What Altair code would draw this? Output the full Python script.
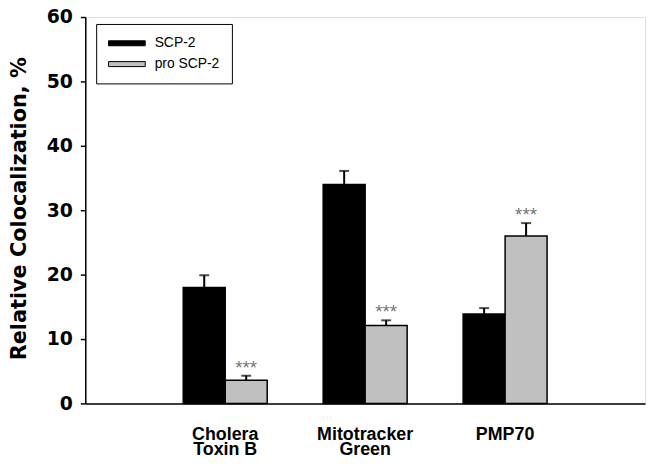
import altair as alt
import pandas as pd

categories = ["Cholera Toxin B", "Mitotracker Green", "PMP70"]
category_lines = [["Cholera", "Toxin B"], ["Mitotracker", "Green"], ["PMP70"]]
series = ["SCP-2", "pro SCP-2"]
scp2_values = [18.0, 34.0, 13.9]
scp2_errors = [1.9, 2.1, 0.9]
pro_values = [3.6, 12.1, 26.0]
pro_errors = [0.7, 0.8, 2.0]
pro_marks = ["***", "***", "***"]
colors = ["#000000", "#c0c0c0"]

rows = []
for i, c in enumerate(categories):
    rows.append({"cat": c, "series": series[0], "value": scp2_values[i],
                 "hi": scp2_values[i] + scp2_errors[i], "star": ""})
    rows.append({"cat": c, "series": series[1], "value": pro_values[i],
                 "hi": pro_values[i] + pro_errors[i], "star": pro_marks[i]})
df = pd.DataFrame(rows)

label_map = "{" + ",".join(
    "'%s': [%s]" % (c, ",".join("'%s'" % s for s in lines))
    for c, lines in zip(categories, category_lines)) + "}"

x_enc = alt.X("cat:N", scale=alt.Scale(domain=categories, paddingInner=0.4, paddingOuter=0.7),
              sort=categories,
              axis=alt.Axis(title=None, labelAngle=0, ticks=False, labelFont="Liberation Sans",
                            labelFontWeight="bold", labelFontSize=18, labelColor="black",
                            labelPadding=22, labelLineHeight=15.5,
                            labelExpr=label_map + "[datum.label]",
                            domainColor="black", domainWidth=1.5))
xoff = alt.XOffset("series:N", scale=alt.Scale(domain=series, paddingInner=0, paddingOuter=0))
y_scale = alt.Scale(domain=[0, 60], nice=False)

bars = alt.Chart(df).mark_bar(stroke="black", strokeWidth=1.5).encode(
    x=x_enc,
    xOffset=xoff,
    y=alt.Y("value:Q", scale=y_scale,
            axis=alt.Axis(title="Relative Colocalization, %", values=[0, 10, 20, 30, 40, 50, 60],
                          grid=False, tickSize=5, tickColor="black", tickWidth=1.5,
                          labelFont="DejaVu Sans", labelFontWeight="bold", labelFontSize=19,
                          labelColor="black", labelPadding=8,
                          titleFont="DejaVu Sans", titleFontWeight="bold", titleFontSize=21,
                          titleColor="black", titleX=-56, titleY=193,
                          domainColor="black", domainWidth=1.5)),
    fill=alt.Fill("series:N", scale=alt.Scale(domain=series, range=colors),
                  legend=alt.Legend(title=None, orient="none", legendX=11, legendY=7,
                                    padding=12, strokeColor="black", fillColor="white",
                                    symbolType="M-1,-0.36L4.29,-0.36L4.29,0.36L-1,0.36Z",
                                    symbolSize=196, symbolStrokeColor="black",
                                    symbolStrokeWidth=1, symbolOpacity=1,
                                    labelFont="Liberation Sans", labelFontSize=14,
                                    labelColor="black", labelOffset=32, rowPadding=6)),
)

err = alt.Chart(df).mark_rule(color="black", strokeWidth=2).encode(
    x=x_enc, xOffset=xoff, y=alt.Y("value:Q", scale=y_scale), y2="hi:Q")

caps = alt.Chart(df).mark_tick(color="black", orient="horizontal", size=10, thickness=2).encode(
    x=x_enc, xOffset=xoff, y=alt.Y("hi:Q", scale=y_scale))

stars = alt.Chart(df).mark_text(dy=-2, baseline="alphabetic", fontSize=19, color="#777777",
                                font="Liberation Sans").encode(
    x=x_enc, xOffset=xoff, y=alt.Y("hi:Q", scale=y_scale), text="star:N")

chart = alt.layer(bars, err, caps, stars).properties(
    width=565, height=390,
    autosize=alt.AutoSizeParams(type="none"),
    padding={"left": 78, "top": 7, "right": 5, "bottom": 55},
).configure_view(stroke="black", strokeWidth=1.5).configure(background="white")

chart.save("out.html", embed_options={"renderer": "svg", "actions": False})
